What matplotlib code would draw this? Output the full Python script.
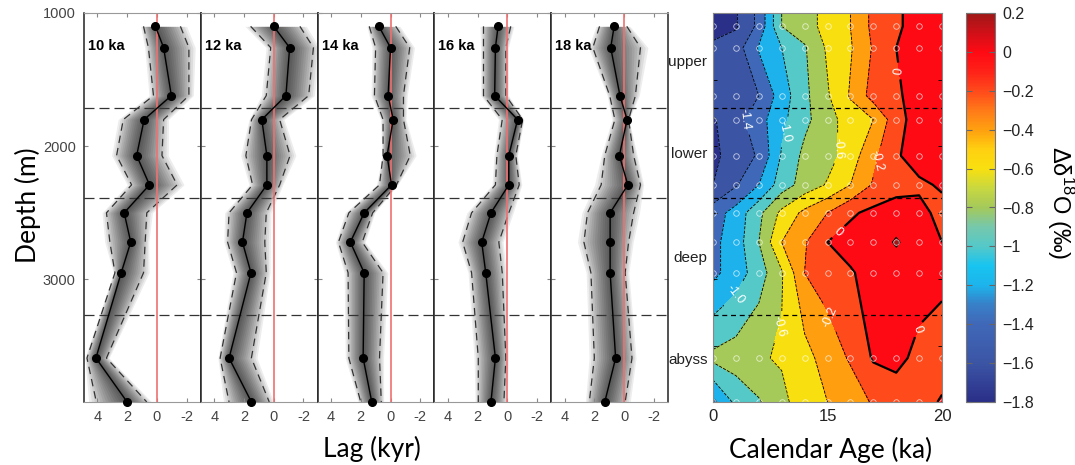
# lag profiles and d18O contour section

import matplotlib.pyplot as plt
import numpy as np
from matplotlib.colors import LinearSegmentedColormap, Normalize
from matplotlib.cm import ScalarMappable

plt.rcParams['font.family'] = ['Liberation Sans', 'DejaVu Sans']
plt.rcParams['axes.unicode_minus'] = False
plt.rcParams['mathtext.fontset'] = 'custom'
plt.rcParams['mathtext.rm'] = 'Liberation Sans'

# depths of the core sites (m), shared by both plots
depths = [1100, 1260, 1620, 1800, 2070, 2290, 2500, 2720, 2950, 3590, 3920]
# water mass boundaries (m)
bounds = [1000, 1710, 2390, 3265, 3920]
regions = ["upper", "lower", "deep", "abyss"]

# lag (kyr): median and the two dashed envelope lines, per time slice
med10 = [0.1, -0.45, -0.97, 0.86, 1.36, 0.5, 2.2, 1.76, 2.4, 4.1, 2.0]
lo10 = [0.9, 0.57, 0.23, 2.26, 2.71, 1.7, 3.39, 3.16, 2.82, 4.7, 4.07]
hi10 = [-1.58, -2.15, -2.15, -0.45, -0.34, -1.36, 0.68, 0.79, 0.9, 3.39, 0.68]

med12 = [0.0, -1.07, -0.82, 0.8, 0.46, 0.46, 1.8, 2.1, 1.53, 3.0, 1.5]
lo12 = [1.55, 0.2, 0.5, 1.49, 1.87, 1.42, 3.0, 3.1, 2.5, 3.6, 3.0]
hi12 = [-1.76, -2.67, -2.35, -0.4, -1.1, -0.4, 0.5, 0.6, 0.5, 1.5, 0.3]

med14 = [0.78, 0.0, 0.16, -0.18, 0.23, -0.07, 1.77, 2.7, 1.77, 1.84, 1.26]
lo14 = [1.43, 1.0, 1.08, 0.5, 0.5, 0.74, 2.8, 3.5, 2.85, 2.8, 2.0]
hi14 = [-0.35, -1.29, -0.87, -0.87, -1.33, -0.4, 1.2, 1.9, 0.5, 0.74, 0.62]

med16 = [0.62, 0.8, 0.85, -0.69, -0.1, -0.1, 1.1, 1.72, 1.45, 0.8, 1.1]
lo16 = [1.6, 1.6, 1.6, 0.34, 0.7, 0.8, 2.4, 3.0, 2.4, 1.95, 1.95]
hi16 = [-0.23, 0.1, 0.1, -1.03, -0.57, -0.8, -0.1, 0.57, 0.34, 0.1, 0.23]

med18 = [0.67, 0.9, 0.28, -0.2, 0.32, -0.25, 0.94, 0.94, 0.94, 0.57, 1.3]
lo18 = [1.65, 2.1, 0.97, 0.62, 1.3, 1.54, 2.46, 2.7, 2.23, 2.0, 2.34]
hi18 = [-0.18, -1.1, -0.76, -0.3, -0.64, -1.1, -0.64, -0.3, -0.07, -0.53, -0.07]

slices = ["10 ka", "12 ka", "14 ka", "16 ka", "18 ka"]
panels = [(med10, lo10, hi10), (med12, lo12, hi12), (med14, lo14, hi14),
          (med16, lo16, hi16), (med18, lo18, hi18)]

# delta d18O (permil), rows = depths, columns = calendar age
cal_age = [10, 11, 12, 13, 14, 15, 16, 17, 18, 19, 20]
d18o = [
    [-1.70, -1.62, -1.35, -0.80, -0.70, -0.52, -0.40, -0.15, -0.02, 0.05, 0.10],
    [-1.55, -1.50, -1.18, -1.00, -0.82, -0.57, -0.42, -0.18, 0.00, 0.08, 0.10],
    [-1.50, -1.48, -1.40, -1.10, -0.85, -0.62, -0.38, -0.12, -0.03, 0.08, 0.10],
    [-1.62, -1.48, -1.28, -1.05, -0.85, -0.68, -0.50, -0.40, -0.08, 0.10, 0.05],
    [-1.65, -1.50, -1.38, -0.98, -0.75, -0.68, -0.50, -0.25, -0.02, 0.08, 0.10],
    [-1.60, -1.42, -1.20, -0.90, -0.72, -0.58, -0.40, -0.18, -0.08, -0.03, 0.02],
    [-1.30, -1.12, -0.85, -0.55, -0.35, -0.20, -0.03, 0.05, 0.10, 0.05, -0.05],
    [-1.25, -1.10, -0.80, -0.40, -0.22, 0.00, 0.08, 0.10, 0.22, 0.10, 0.00],
    [-1.25, -1.10, -0.90, -0.62, -0.20, -0.12, -0.02, 0.08, 0.10, 0.08, 0.05],
    [-0.75, -0.70, -0.62, -0.58, -0.48, -0.30, -0.18, 0.02, 0.05, -0.05, -0.10],
    [-1.25, -0.95, -0.82, -0.65, -0.50, -0.40, -0.30, -0.18, -0.10, -0.08, 0.02],
]

cmap = LinearSegmentedColormap.from_list("d18o", [
    (0.00, "#2a2f88"), (0.10, "#3c55a5"), (0.20, "#4068b8"), (0.25, "#3880c8"),
    (0.30, "#1cb4ec"), (0.35, "#18c4f0"), (0.40, "#55c8c8"), (0.45, "#75c8ac"),
    (0.50, "#a5c95a"), (0.55, "#c8d840"), (0.60, "#f8e010"), (0.65, "#ffd010"),
    (0.70, "#ffa010"), (0.75, "#ff7a18"), (0.80, "#ff4a1c"), (0.85, "#ff2218"),
    (0.90, "#ff0a14"), (0.95, "#d01018"), (1.00, "#a01818")])
norm = Normalize(-1.8, 0.2)

W, H = 1075, 465
fig = plt.figure(figsize=(W / 100, H / 100), dpi=100)
bot = 1 - 402 / H
hgt = (402 - 13) / H
dash = (0, (6, 4))
title_font = ["Lato", "DejaVu Sans"]

dep = np.array(depths)
for i, (med, lo, hi) in enumerate(panels):
    ax = fig.add_axes([(84 + i * 116.8) / W, bot, 116.8 / W, hgt])
    med, lo, hi = np.array(med), np.array(lo), np.array(hi)
    for f in np.linspace(1.25, 0.05, 14):
        ax.fill_betweenx(dep, med + f * (lo - med), med + f * (hi - med),
                         color="k", alpha=0.072, lw=0)
    ax.plot(lo, dep, ls=dash, color="#333333", lw=0.9)
    ax.plot(hi, dep, ls=dash, color="#333333", lw=0.9)
    ax.axvline(0, color="#f07070", lw=1.2)
    ax.plot(med, dep, "-o", color="k", lw=1, ms=5.5, clip_on=False, zorder=5)
    for d in bounds[1:-1]:
        ax.axhline(d, color="#333333", lw=0.9, ls=(0, (8, 4)))
    ax.set_xlim(4.9, -2.95)
    ax.set_ylim(bounds[-1], bounds[0])
    ax.set_xticks([4, 2, 0, -2])
    ax.set_yticks([1000, 2000, 3000])
    if i > 0:
        ax.set_yticklabels([])
    ax.tick_params(direction="in", top=True, right=True, length=3, color="#888888",
                   labelcolor="#444444", labelsize=10.5, pad=6)
    for s in ["top", "bottom"]:
        ax.spines[s].set_color("#999999")
    for s in ["left", "right"]:
        ax.spines[s].set_color("#222222")
        ax.spines[s].set_linewidth(1.1)
    ax.text(0.035, 0.915, slices[i], transform=ax.transAxes, fontsize=10.5,
            fontweight="bold", va="center")

fig.text(0.026, 1 - 205 / H, "Depth (m)", rotation=90, ha="center", va="center",
         fontsize=19, family=title_font)
fig.text(372 / W, 1 - 449 / H, "Lag (kyr)", ha="center", va="center",
         fontsize=19, family=title_font)

# contour section
ax2 = fig.add_axes([713 / W, bot, 229 / W, hgt])
Z = np.array(d18o)
Zf = np.vstack([Z[0], Z])
A, D = np.meshgrid(cal_age, np.r_[bounds[0], dep])
levels = np.round(np.arange(-1.8, 0.41, 0.2), 1)
band_colors = [cmap(norm(l)) for l in levels[:-1]]
ax2.contourf(A, D, Zf, levels=levels, colors=band_colors)
lab_levels = [-1.4, -1.0, -0.6, -0.2, 0.0]
other_levels = [l for l in levels[1:-1] if l not in lab_levels]
ax2.contour(A, D, Zf, levels=other_levels, colors="k", linewidths=0.6)
cs = ax2.contour(A, D, Zf, levels=lab_levels, colors="k",
                 linewidths=[0.6, 0.6, 0.6, 0.6, 1.6])
ax2.clabel(cs, inline=True, fontsize=9, colors="white",
           fmt=lambda v: "0" if v == 0 else "%.1f" % v,
           manual=[(11.4, 1800), (13.3, 1900), (15.55, 2015), (17.35, 2120),
                   (17.7, 1445), (15.5, 2647), (10.9, 3100), (13.05, 3360),
                   (15.3, 3270), (18.9, 3370)])
Ag, Dg = np.meshgrid(cal_age, dep)
ax2.plot(Ag.ravel(), Dg.ravel(), "o", mfc="none", mec="white", ms=4, mew=0.6,
         alpha=0.7)
for d in bounds[1:-1]:
    ax2.axhline(d, color="k", lw=0.9, ls=(0, (4, 3)))
ax2.set_xlim(cal_age[0], cal_age[-1])
ax2.set_ylim(bounds[-1], bounds[0])
ax2.set_xticks([10, 15, 20])
ax2.set_xticklabels(["0", "15", "20"])
centers = [(bounds[k] + bounds[k + 1]) / 2 for k in range(4)]
ax2.set_yticks(centers)
ax2.set_yticklabels(regions)
ax2.set_yticks(np.arange(1500, 4000, 500), minor=True)
ax2.tick_params(which="major", length=0, labelsize=11, labelcolor="#222222", pad=4)
ax2.tick_params(axis="x", labelsize=12, pad=5)
ax2.tick_params(which="minor", direction="in", left=True, right=True, length=3)
for s in ax2.spines.values():
    s.set_color("#888888")

# colorbar
cax = fig.add_axes([966 / W, bot, 29 / W, hgt])
cticks = np.round(np.arange(-1.8, 0.21, 0.2), 1)
cb = fig.colorbar(ScalarMappable(norm=norm, cmap=cmap), cax=cax, ticks=cticks)
cb.ax.set_yticklabels(["0" if v == 0 else ("\u2212" if v < 0 else "") + "%g" % abs(v)
                       for v in cticks])
cb.ax.tick_params(direction="in", left=True, right=True, length=4, color="#666666",
                  labelsize=11.5, labelcolor="#222222", pad=5)
cb.outline.set_edgecolor("#777777")
fig.text(1060 / W, 1 - 203 / H, "\u0394\u03b4$^{18}$O (\u2030)", rotation=270,
         ha="center", va="center", fontsize=17)
fig.text(831 / W, 1 - 450 / H, "Calendar Age (ka)", ha="center", va="center",
         fontsize=19, family=title_font)

fig.savefig("out.png", dpi=100)
